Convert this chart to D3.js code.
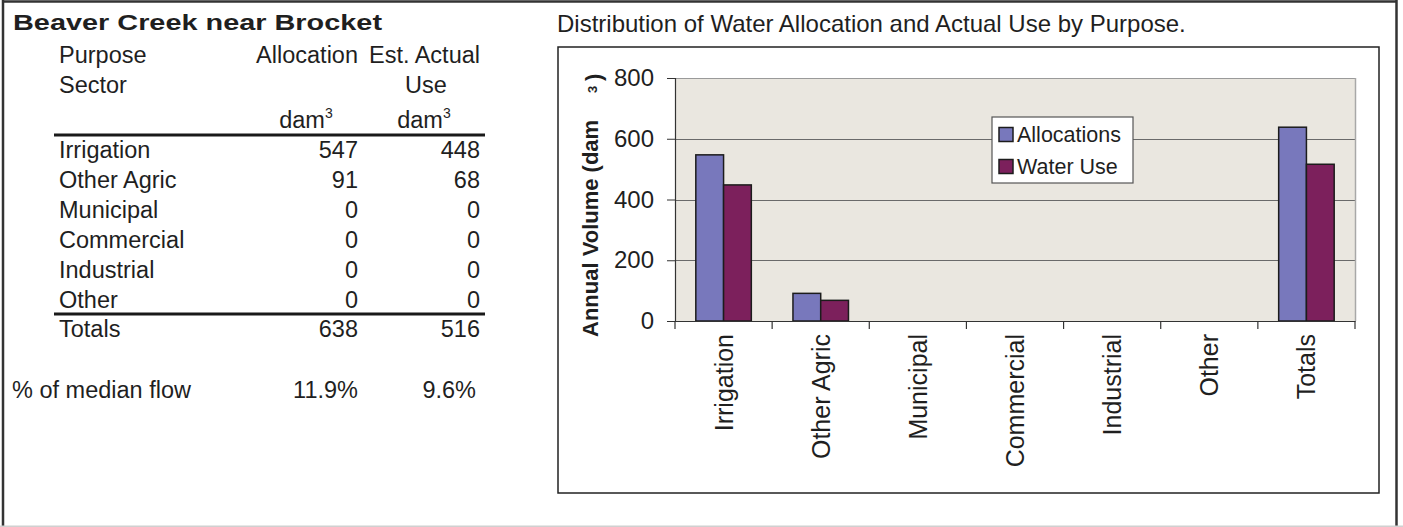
<!DOCTYPE html>
<html>
<head>
<meta charset="utf-8">
<script src="https://cdn.jsdelivr.net/npm/d3@7"></script>
<style>
  html, body { margin: 0; padding: 0; background: #fff; }
  svg { display: block; }
  text { font-family: "Liberation Sans", Arial, Helvetica, sans-serif; fill: #1f1f1f; }
</style>
</head>
<body>
<svg id="chart" width="1403" height="527"></svg>
<script>
// Purpose sectors and the two series, in dam³
const categories = ["Irrigation", "Other Agric", "Municipal", "Commercial", "Industrial", "Other", "Totals"];
const allocations = [547, 91, 0, 0, 0, 0, 638];
const waterUse = [448, 68, 0, 0, 0, 0, 516];
const seriesNames = ["Allocations", "Water Use"];
const seriesColors = ["#7878bc", "#7c205c"];
const medianFlowPct = ["11.9%", "9.6%"];
const yTicks = [0, 200, 400, 600, 800];

const svg = d3.select("#chart");

// ---- outer frame ----
svg.append("line").attr("x1", 3).attr("y1", 0).attr("x2", 3).attr("y2", 527)
  .attr("stroke", "#333").attr("stroke-width", 2.5);
svg.append("line").attr("x1", 2).attr("y1", 1.5).attr("x2", 1397).attr("y2", 1.5)
  .attr("stroke", "#333").attr("stroke-width", 2.5);
svg.append("line").attr("x1", 1396.5).attr("y1", 0).attr("x2", 1396.5).attr("y2", 527)
  .attr("stroke", "#333").attr("stroke-width", 2.5);
svg.append("line").attr("x1", 0).attr("y1", 526.5).attr("x2", 1403).attr("y2", 526.5)
  .attr("stroke", "#d0d0d0").attr("stroke-width", 2);

// ---- left side: station title and table ----
svg.append("text").attr("x", 13).attr("y", 30)
  .attr("font-size", 22.5).attr("font-weight", "bold")
  .attr("textLength", 369).attr("lengthAdjust", "spacingAndGlyphs")
  .text("Beaver Creek near Brocket");

const table = svg.append("g").attr("font-size", 23.5);
const labelX = 59, allocRight = 358, useRight = 480;
const allocMid = 306, useMid = 424;

table.append("text").attr("x", labelX).attr("y", 63).text("Purpose");
table.append("text").attr("x", labelX).attr("y", 93).text("Sector");
table.append("text").attr("x", allocRight).attr("y", 63).attr("text-anchor", "end").text("Allocation");
table.append("text").attr("x", useRight).attr("y", 63).attr("text-anchor", "end").text("Est. Actual");
table.append("text").attr("x", useMid + 2).attr("y", 93).attr("text-anchor", "middle").text("Use");

[allocMid, useMid].forEach(cx => {
  const t = table.append("text").attr("x", cx).attr("y", 128).attr("text-anchor", "middle");
  t.append("tspan").text("dam");
  t.append("tspan").attr("font-size", 14).attr("dy", -10).text("3");
});

table.append("line").attr("x1", 54).attr("x2", 485).attr("y1", 135).attr("y2", 135)
  .attr("stroke", "#1a1a1a").attr("stroke-width", 3);

const rowY = d3.scaleLinear().domain([0, 1]).range([158, 188]);
const sectorRows = categories.slice(0, 6);
sectorRows.forEach((c, i) => {
  const y = rowY(i);
  table.append("text").attr("x", labelX).attr("y", y).text(c);
  table.append("text").attr("x", allocRight).attr("y", y).attr("text-anchor", "end").text(allocations[i]);
  table.append("text").attr("x", useRight).attr("y", y).attr("text-anchor", "end").text(waterUse[i]);
});

table.append("line").attr("x1", 54).attr("x2", 485).attr("y1", 314).attr("y2", 314)
  .attr("stroke", "#1a1a1a").attr("stroke-width", 3);

table.append("text").attr("x", labelX).attr("y", 337).text(categories[6]);
table.append("text").attr("x", allocRight).attr("y", 337).attr("text-anchor", "end").text(allocations[6]);
table.append("text").attr("x", useRight).attr("y", 337).attr("text-anchor", "end").text(waterUse[6]);

table.append("text").attr("x", 12).attr("y", 398).text("% of median flow");
table.append("text").attr("x", allocRight).attr("y", 398).attr("text-anchor", "end").text(medianFlowPct[0]);
table.append("text").attr("x", 476).attr("y", 398).attr("text-anchor", "end").text(medianFlowPct[1]);

// ---- right side: chart ----
svg.append("text").attr("x", 557).attr("y", 32).attr("font-size", 24)
  .text("Distribution of Water Allocation and Actual Use by Purpose.");

svg.append("rect").attr("x", 558).attr("y", 47).attr("width", 821).attr("height", 446)
  .attr("fill", "#fff").attr("stroke", "#222").attr("stroke-width", 1.5);

const plot = { left: 675, right: 1355, top: 78, bottom: 321 };

const x = d3.scaleBand().domain(categories).range([plot.left, plot.right]).padding(0);
const xs = d3.scaleBand().domain(seriesNames).range([0, x.bandwidth()])
  .paddingInner(0).paddingOuter(0.75);
const y = d3.scaleLinear().domain([0, 800]).range([plot.bottom, plot.top]);

// plot background
svg.append("rect").attr("x", plot.left).attr("y", plot.top)
  .attr("width", plot.right - plot.left).attr("height", plot.bottom - plot.top)
  .attr("fill", "#eae7e0");

// gridlines
svg.append("g").selectAll("line").data(yTicks.filter(d => d > 0)).join("line")
  .attr("x1", plot.left).attr("x2", plot.right)
  .attr("y1", d => Math.round(y(d)) + 0.5).attr("y2", d => Math.round(y(d)) + 0.5)
  .attr("stroke", d => d === 800 ? "#9a9a9a" : "#6a6a6a").attr("stroke-width", 1);

// right edge of plot area
svg.append("line").attr("x1", plot.right + 0.5).attr("x2", plot.right + 0.5)
  .attr("y1", plot.top).attr("y2", plot.bottom)
  .attr("stroke", "#a8a8a8").attr("stroke-width", 1.5);

// bars
const seriesData = [allocations, waterUse];
const groups = svg.append("g").selectAll("g").data(categories).join("g")
  .attr("transform", d => `translate(${x(d)},0)`);
groups.selectAll("rect")
  .data((c, i) => seriesNames.map((s, k) => ({ s, k, v: seriesData[k][i] })))
  .join("rect")
  .filter(d => d.v > 0)
  .attr("x", d => xs(d.s))
  .attr("y", d => y(d.v))
  .attr("width", xs.bandwidth())
  .attr("height", d => y(0) - y(d.v))
  .attr("fill", d => seriesColors[d.k])
  .attr("stroke", "#1c1c1c").attr("stroke-width", 1.5);

// y axis
const yAxis = svg.append("g").attr("transform", `translate(${plot.left},0)`)
  .call(d3.axisLeft(y).tickValues(yTicks).tickSize(8).tickPadding(13).tickFormat(d3.format("d")));
yAxis.select(".domain").attr("stroke", "#333").attr("stroke-width", 1.2);
yAxis.selectAll(".tick line").attr("stroke", "#333");
yAxis.selectAll(".tick text").attr("font-size", 24).attr("fill", "#1f1f1f")
  .attr("font-family", '"Liberation Sans", Arial, sans-serif');

// x axis
const xAxis = svg.append("g").attr("transform", `translate(0,${plot.bottom})`)
  .call(d3.axisBottom(x).tickSize(0).tickFormat(""));
xAxis.select(".domain").attr("stroke", "#333").attr("stroke-width", 1.2);
xAxis.selectAll(".tick").remove();
// tick marks on the category boundaries
const boundaries = categories.map(c => x(c)).concat([plot.right]);
xAxis.selectAll("line.sep").data(boundaries).join("line").attr("class", "sep")
  .attr("x1", d => d).attr("x2", d => d).attr("y1", 0).attr("y2", 8)
  .attr("stroke", "#333").attr("stroke-width", 1.2);
xAxis.selectAll("text.cat").data(categories).join("text").attr("class", "cat")
  .attr("transform", d => `translate(${x(d) + x.bandwidth() / 2},13) rotate(-90)`)
  .attr("text-anchor", "end").attr("dy", "0.36em")
  .attr("font-size", 25)
  .text(d => d);

// y axis title
const yTitle = svg.append("text")
  .attr("transform", "translate(598,337) rotate(-90)")
  .attr("font-size", 22).attr("font-weight", "bold");
yTitle.append("tspan").attr("x", 0).attr("y", 0).text("Annual Volume (dam");
yTitle.append("tspan").attr("x", 244).attr("y", -1).attr("font-size", 13).text("3");
yTitle.append("tspan").attr("x", 256).attr("y", 3).text(")");

// legend
const legend = svg.append("g").attr("transform", "translate(992,117)");
legend.append("rect").attr("width", 141).attr("height", 66)
  .attr("fill", "#fff").attr("stroke", "#555").attr("stroke-width", 1.2);
seriesNames.forEach((s, k) => {
  const ly = 17 + k * 32;
  legend.append("rect").attr("x", 7).attr("y", ly - 6.5).attr("width", 14).attr("height", 14)
    .attr("fill", seriesColors[k]).attr("stroke", "#1c1c1c").attr("stroke-width", 1.5);
  legend.append("text").attr("x", 25).attr("y", ly + 7.5).attr("font-size", 21.5).text(s);
});
</script>
</body>
</html>
